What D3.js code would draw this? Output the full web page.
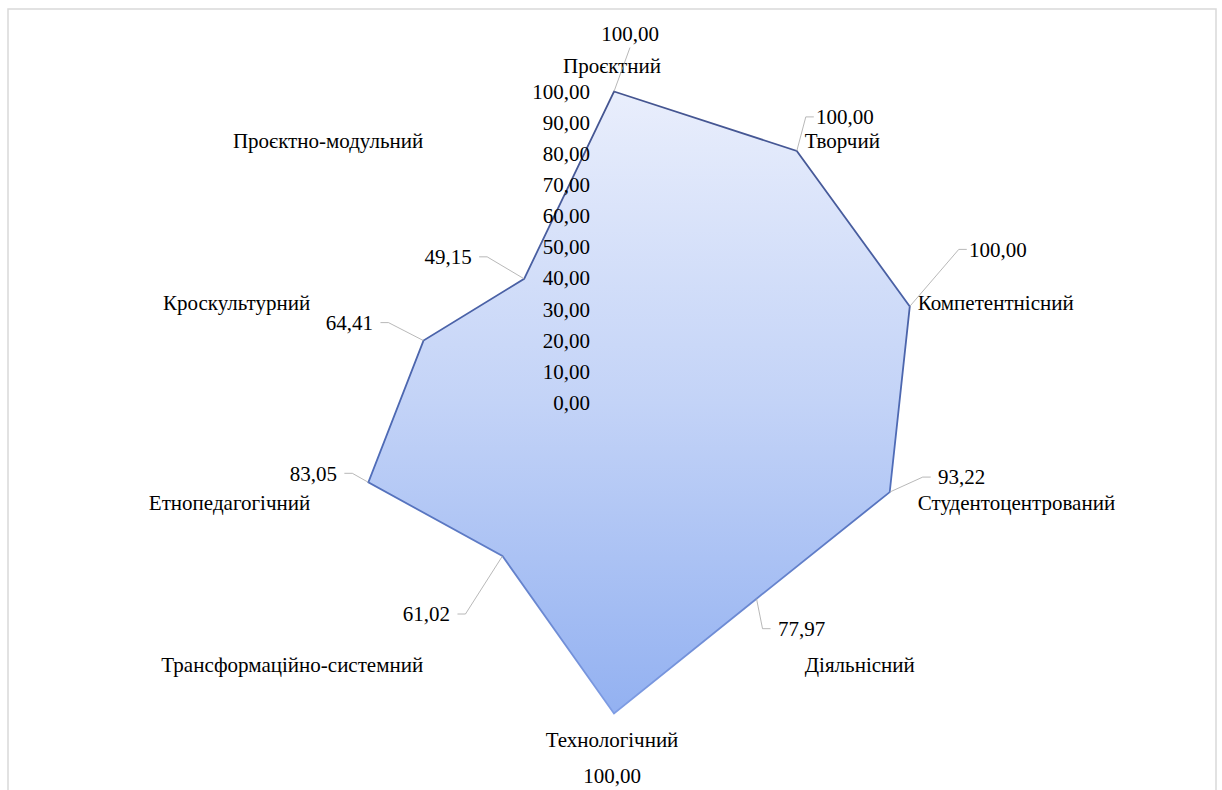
<!DOCTYPE html>
<html>
<head>
<meta charset="utf-8">
<script src="https://cdn.jsdelivr.net/npm/d3@7"></script>
<style>
  body { margin: 0; background: #fff; }
</style>
</head>
<body>
<svg id="Radar"></svg>
<script>
// data
const categories = ["Проєктний", "Творчий", "Компетентнісний", "Студентоцентрований", "Діяльнісний",
    "Технологічний", "Трансформаційно-системний", "Етнопедагогічний", "Кроскультурний", "Проєктно-модульний"];
const values = [100.00, 100.00, 100.00, 93.22, 77.97, 100.00, 61.02, 83.05, 64.41, 49.15];
const ticks = [0, 10, 20, 30, 40, 50, 60, 70, 80, 90, 100];

// where the value labels were dragged to (offset from the point)
const labelOffsets = [[16, -58], [48, -34], [88, -57], [72, -15], [45, 30],
    [-2, 62], [-76, 58], [-55, -9], [-74, -18], [-76, -22]];

const W = 1222, H = 790;
const cx = 614, cy = 402.5, R = 311;
const FONT = "'Liberation Serif', 'Times New Roman', serif";
const FS = "21px";
const fmt = v => v.toFixed(2).replace(".", ",");

const svg = d3.select("#Radar")
    .attr("width", W).attr("height", H)
    .style("font-family", FONT);

// chart border
svg.append("rect")
    .attr("x", 8).attr("y", 9)
    .attr("width", 1208).attr("height", 800)
    .attr("fill", "none")
    .attr("stroke", "#d9d9d9")
    .attr("stroke-width", 1.5);

const r = d3.scaleLinear().domain([0, 100]).range([0, R]);
const angle = d3.scalePoint().domain(d3.range(categories.length + 1)).range([0, 2 * Math.PI]);
const pt = (i, v) => [cx + r(v) * Math.sin(angle(i)), cy - r(v) * Math.cos(angle(i))];

const defs = svg.append("defs");
const fillGrad = defs.append("linearGradient").attr("id", "fillGrad")
    .attr("x1", 0).attr("y1", 0).attr("x2", 0).attr("y2", 1);
fillGrad.append("stop").attr("offset", "0%").attr("stop-color", "#e9eefc");
fillGrad.append("stop").attr("offset", "50%").attr("stop-color", "#c3d3f7");
fillGrad.append("stop").attr("offset", "100%").attr("stop-color", "#93b1f1");
const strokeGrad = defs.append("linearGradient").attr("id", "strokeGrad")
    .attr("x1", 0).attr("y1", 0).attr("x2", 0).attr("y2", 1);
strokeGrad.append("stop").attr("offset", "0%").attr("stop-color", "#44548f");
strokeGrad.append("stop").attr("offset", "60%").attr("stop-color", "#4f6cb8");
strokeGrad.append("stop").attr("offset", "100%").attr("stop-color", "#7f9de4");

// area
const line = d3.lineRadial()
    .angle((d, i) => angle(i))
    .radius(d => r(d))
    .curve(d3.curveLinearClosed);

svg.append("path")
    .datum(values)
    .attr("transform", `translate(${cx},${cy})`)
    .attr("d", line)
    .attr("fill", "url(#fillGrad)")
    .attr("stroke", "url(#strokeGrad)")
    .attr("stroke-width", 1.8)
    .attr("stroke-linejoin", "miter");

// radial axis labels
svg.append("g").selectAll("text")
    .data(ticks)
    .join("text")
    .attr("x", cx - 24)
    .attr("y", d => cy - r(d))
    .attr("dy", "0.35em")
    .attr("text-anchor", "end")
    .attr("font-size", FS)
    .text(d => fmt(d));

// category labels around the 100% ring
svg.append("g").selectAll("text")
    .data(categories)
    .join("text")
    .attr("x", (d, i) => {
        const s = Math.sin(angle(i));
        return pt(i, 100)[0] + (Math.abs(s) < 0.01 ? -2 : Math.sign(s) * 8);
    })
    .attr("y", (d, i) => {
        const c = Math.cos(angle(i));
        const dy = Math.abs(c) > 0.99 ? -Math.sign(c) * 26 : -c * 13;
        return pt(i, 100)[1] + dy;
    })
    .attr("dy", "0.35em")
    .attr("text-anchor", (d, i) => {
        const s = Math.sin(angle(i));
        return Math.abs(s) < 0.01 ? "middle" : (s > 0 ? "start" : "end");
    })
    .attr("font-size", FS)
    .text(d => d);

// value labels with leader lines
const lab = values.map((v, i) => {
    const [x, y] = pt(i, v);
    return {v, x, y, lx: x + labelOffsets[i][0], ly: y + labelOffsets[i][1]};
});

svg.append("g").selectAll("path")
    .data(lab.filter(d => Math.hypot(d.lx - d.x, d.ly - d.y) > 40 && Math.abs(d.lx - d.x) > 8))
    .join("path")
    .attr("d", d => {
        if (Math.abs(d.ly - d.y) > 2.5 * Math.abs(d.lx - d.x)) {
            // mostly vertical: run into the bottom of the label
            return `M${d.x},${d.y}L${d.lx},${d.ly + 14}`;
        }
        const side = d.lx > d.x ? -1 : 1;
        const ex = d.lx + side * 31;
        return `M${d.x},${d.y}L${ex + side * 8},${d.ly}L${ex},${d.ly}`;
    })
    .attr("fill", "none")
    .attr("stroke", "#a6a6a6")
    .attr("stroke-width", 0.8);

svg.append("g").selectAll("text")
    .data(lab)
    .join("text")
    .attr("x", d => d.lx)
    .attr("y", d => d.ly)
    .attr("dy", "0.35em")
    .attr("text-anchor", "middle")
    .attr("font-size", FS)
    .text(d => fmt(d.v));
</script>
</body>
</html>
